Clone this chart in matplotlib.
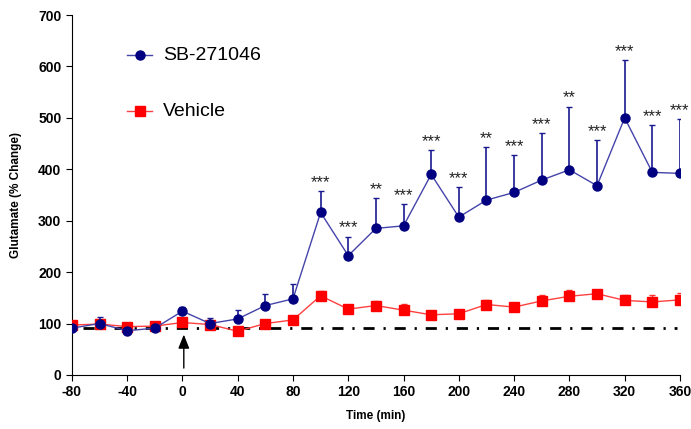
import numpy as np
import matplotlib
matplotlib.use("Agg")
import matplotlib.pyplot as plt

plt.rcParams['font.family'] = ['Liberation Sans', 'DejaVu Sans']
plt.rcParams['axes.unicode_minus'] = False

time = [-80, -60, -40, -20, 0, 20, 40, 60, 80, 100, 120, 140, 160, 180,
        200, 220, 240, 260, 280, 300, 320, 340, 360]

sb_mean = [91, 100, 86, 91, 124, 100, 109, 135, 148, 316, 232, 285, 290, 390,
           307, 340, 355, 379, 399, 368, 500, 394, 392]
sb_err = [4, 12, 4, 4, 9, 11, 17, 23, 28, 42, 37, 59, 43, 47,
          58, 103, 72, 91, 123, 89, 113, 92, 105]

veh_mean = [97, 99, 94, 95, 102, 98, 85, 100, 107, 154, 128, 135, 126, 117,
            119, 137, 132, 144, 153, 158, 145, 142, 146]
veh_err = [5, 6, 5, 5, 6, 5, 5, 6, 6, 10, 6, 8, 12, 6,
           6, 8, 7, 12, 12, 7, 11, 13, 14]

stars = {100: "***", 120: "***", 140: "**", 160: "***", 180: "***", 200: "***",
         220: "**", 240: "***", 260: "***", 280: "**", 300: "***", 320: "***",
         340: "***", 360: "***"}

baseline = 91


def main():
    fig = plt.figure(figsize=(6.91, 4.29), dpi=100)
    ax = fig.add_axes([0.104, 0.126, 0.880, 0.839])

    ax.plot([-72, 358], [baseline, baseline], color="black", lw=2,
            dashes=(4, 3.2, 0.8, 3.2), zorder=1)

    ax.errorbar(time, veh_mean, yerr=[np.zeros(len(veh_err)), veh_err],
                color="#ff4040", ecolor="#ff3030", lw=1, elinewidth=1,
                capsize=2.5, marker="s", markersize=6.5, mfc="#ff0000",
                mec="#ff0000", zorder=3)
    ax.errorbar(time, sb_mean, yerr=[np.zeros(len(sb_err)), sb_err],
                color="#4444aa", ecolor="#1a1a90", lw=1, elinewidth=1.2,
                capsize=2.5, marker="o", markersize=6.5, mfc="#000080",
                mec="#000080", zorder=4)

    for t, s in stars.items():
        i = time.index(t)
        ax.text(t, sb_mean[i] + sb_err[i] + 2, s, ha="center", va="bottom",
                fontsize=12, color="#222222")

    ax.annotate("", xy=(1, 84), xytext=(1, 8),
                arrowprops=dict(arrowstyle="-|>,head_length=0.7,head_width=0.28",
                                color="black", lw=1, mutation_scale=12))

    # legend by hand
    ax.plot([-40, -22], [622, 622], color="#4444aa", lw=1)
    ax.plot([-31], [622], marker="o", markersize=6.5, color="#000080")
    ax.text(-14, 622, "SB-271046", fontsize=14, va="center")
    ax.plot([-40, -22], [513, 513], color="#ff4040", lw=1)
    ax.plot([-31], [513], marker="s", markersize=6.5, color="#ff0000")
    ax.text(-14, 513, "Vehicle", fontsize=14, va="center")

    ax.set_xlim(-80, 360)
    ax.set_ylim(0, 700)
    ax.set_xticks(range(-80, 361, 40))
    ax.set_yticks(range(0, 701, 100))
    ax.spines["top"].set_visible(False)
    ax.spines["right"].set_visible(False)
    ax.tick_params(direction="out", length=4, labelsize=10)
    for lab in ax.get_xticklabels() + ax.get_yticklabels():
        lab.set_fontweight("bold")
    ax.set_xlabel("Time (min)", fontsize=8.5, fontweight="bold", labelpad=8)
    ax.set_ylabel("Glutamate (% Change)", fontsize=8.5, fontweight="bold",
                  labelpad=12)

    fig.savefig("out.png", dpi=100)


if __name__ == "__main__":
    main()
